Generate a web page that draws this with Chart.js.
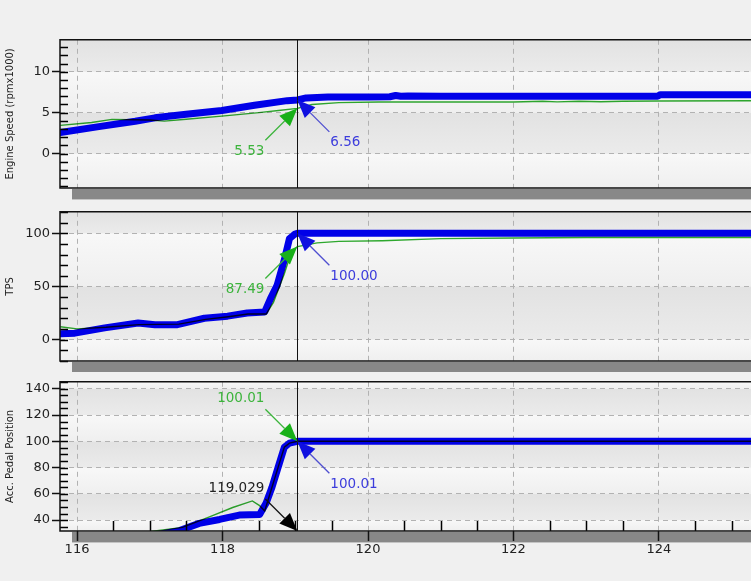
<!DOCTYPE html>
<html>
<head>
<meta charset="utf-8">
<script src="https://cdn.jsdelivr.net/npm/chart.js@4.4.1/dist/chart.umd.min.js"></script>
<style>
  html, body { margin: 0; padding: 0; background: #f0f0f0; }
  #wrap { position: relative; width: 751px; height: 581px; overflow: hidden; }
  canvas { position: absolute; left: 0; }
</style>
</head>
<body>
<div id="wrap">
  <canvas id="speed" width="751" height="172" style="top:30px"></canvas>
  <canvas id="tps" width="751" height="170" style="top:202px"></canvas>
  <canvas id="pedal" width="751" height="209" style="top:372px"></canvas>
</div>
<script>
// time axis
const timeRange = [115.766, 125.265];
const timeTicks = [116, 118, 120, 122, 124];
const cursorTime = 119.029;

// engine speed (rpm x1000)
const speedTicks = [0, 5, 10];
const speedRange = [-4.2, 13.9];
const speedBlueT = [115.77, 116.3, 116.8, 117.07, 117.5, 117.99, 118.44, 118.89, 119.03, 119.15, 119.45, 120.0, 120.3, 120.38, 120.45, 120.55, 121.0, 123.98, 124.02, 125.3];
const speedBlueV = [2.57, 3.3, 3.95, 4.37, 4.8, 5.26, 5.9, 6.47, 6.56, 6.8, 6.9, 6.9, 6.95, 7.1, 7.0, 7.05, 7.0, 7.0, 7.2, 7.2];
const speedGreenT = [115.77, 116.2, 116.48, 117.0, 117.2, 117.5, 117.99, 118.5, 118.8, 119.03, 119.23, 119.6, 120.15, 121.0, 122.0, 122.4, 122.6, 122.9, 123.2, 123.5, 124.0, 125.3];
const speedGreenV = [3.45, 3.8, 4.18, 4.1, 3.97, 4.2, 4.58, 5.0, 5.3, 5.53, 6.0, 6.23, 6.3, 6.3, 6.3, 6.4, 6.32, 6.4, 6.33, 6.4, 6.42, 6.45];

// throttle position
const tpsTicks = [0, 50, 100];
const tpsRange = [-20.2, 120.2];
const tpsBlueT = [115.77, 115.97, 116.38, 116.84, 117.07, 117.38, 117.75, 118.07, 118.34, 118.58, 118.67, 118.75, 118.85, 118.92, 118.99, 119.03, 125.3];
const tpsBlueV = [5.5, 6, 11, 15.5, 14, 14, 20, 22, 25, 26, 40, 51, 75, 95, 99, 100, 100];
const tpsGreenT = [115.77, 116.0, 116.4, 116.85, 117.4, 117.77, 118.08, 118.35, 118.6, 118.7, 118.85, 118.95, 119.03, 119.3, 119.6, 120.2, 121.0, 122.0, 123.0, 124.0, 125.3];
const tpsGreenV = [12, 10, 11.5, 14, 14.5, 19, 21.5, 24, 24, 35, 62, 83, 87.49, 91, 92.4, 93, 95, 95.5, 96, 96, 96];

// accelerator pedal position
const pedalTicks = [40, 60, 80, 100, 120, 140];
const pedalRange = [31.7, 145.3];
const pedalBlueT = [115.77, 116.5, 117.0, 117.41, 117.68, 117.96, 118.23, 118.51, 118.6, 118.68, 118.78, 118.85, 118.92, 119.03, 125.3];
const pedalBlueV = [20, 24, 28, 32, 37.5, 40.5, 43.8, 44.3, 53, 65, 83, 95.5, 98.6, 100, 100];
const pedalGreenT = [115.77, 116.5, 117.1, 117.45, 117.82, 118.14, 118.41, 118.51, 118.58, 118.68, 118.78, 118.85, 118.92, 119.03, 125.3];
const pedalGreenV = [22, 27, 32, 34.5, 42.5, 49.6, 54.6, 51, 47, 65, 83, 95.5, 98.6, 100, 100];

// cursor readouts
const cursorGreen = [5.53, 87.49, 100.01];
const cursorBlue = [6.56, 100.00, 100.01];

const GREEN = '#2fae2f';
const BLUE = '#0000e8';
const FONT = 'DejaVu Sans';

function pairs(t, v) {
  return t.map((x, i) => ({x: x, y: v[i]}));
}

function drawArrow(ctx, tx, ty, ux, uy, lineCol, headCol) {
  const a = Math.atan2(ty - uy, tx - ux);
  const L = 18, W = 7.5;
  const bx = tx - L * Math.cos(a), by = ty - L * Math.sin(a);
  ctx.strokeStyle = lineCol;
  ctx.lineWidth = 1.3;
  ctx.beginPath(); ctx.moveTo(ux, uy); ctx.lineTo(bx, by); ctx.stroke();
  ctx.fillStyle = headCol;
  ctx.beginPath();
  ctx.moveTo(tx, ty);
  ctx.lineTo(bx + W * Math.sin(a), by - W * Math.cos(a));
  ctx.lineTo(bx - W * Math.sin(a), by + W * Math.cos(a));
  ctx.closePath(); ctx.fill();
}

function panelPlugin(p) {
  return {
    id: 'panel_' + p.id,
    beforeDraw(chart) {
      const ctx = chart.ctx, a = chart.chartArea, ys = chart.scales.y;
      const cuts = p.ticks.map(v => ys.getPixelForValue(v)).sort((m, n) => n - m);
      const edges = [a.bottom].concat(cuts, [a.top]);
      ctx.save();
      for (let k = 0; k < edges.length - 1; k++) {
        const y0 = edges[k + 1], y1 = edges[k];
        const g = ctx.createLinearGradient(0, y0, 0, y1);
        if (k % 2 === 0) { g.addColorStop(0, '#f8f8f8'); g.addColorStop(1, '#efefef'); }
        else { g.addColorStop(0, '#e2e2e2'); g.addColorStop(1, '#ebebeb'); }
        ctx.fillStyle = g;
        ctx.fillRect(a.left, y0, a.right - a.left, y1 - y0);
      }
      // scroll bar strip under the plot
      ctx.fillStyle = '#888888';
      ctx.fillRect(72, a.bottom + 1, a.right - 72, 10);
      ctx.fillStyle = '#c4c4c4';
      ctx.fillRect(72, a.bottom + 11, a.right - 72, 1);
      ctx.restore();
    },
    beforeDatasetDraw(chart, args) {
      if (args.index === 0) { chart.ctx.save(); chart.ctx.globalCompositeOperation = 'multiply'; }
    },
    afterDatasetDraw(chart, args) {
      if (args.index === 0) chart.ctx.restore();
    },
    afterDatasetsDraw(chart) {
      const ctx = chart.ctx, a = chart.chartArea, xs = chart.scales.x, ys = chart.scales.y;
      ctx.save();
      // inner minor ticks on the value axis
      ctx.strokeStyle = '#000'; ctx.lineWidth = 1.5;
      ctx.beginPath();
      for (let v = Math.ceil(p.range[0] / p.minor) * p.minor; v <= p.range[1]; v += p.minor) {
        const y = Math.round(ys.getPixelForValue(v)) + 0.5;
        ctx.moveTo(a.left, y); ctx.lineTo(a.left + 8, y);
      }
      if (p.showX) {
        for (let t = Math.ceil(timeRange[0] * 2) / 2; t <= timeRange[1]; t += 0.5) {
          if (timeTicks.indexOf(t) >= 0) continue;
          const x = Math.round(xs.getPixelForValue(t)) + 0.5;
          ctx.moveTo(x, a.bottom); ctx.lineTo(x, a.bottom - 10);
        }
      }
      ctx.stroke();
      // cursor
      const cx = Math.round(xs.getPixelForValue(cursorTime)) + 0.5;
      ctx.lineWidth = 1; ctx.strokeStyle = '#111';
      ctx.beginPath(); ctx.moveTo(cx, a.top); ctx.lineTo(cx, a.bottom); ctx.stroke();
      // frame
      ctx.lineWidth = 1.5; ctx.strokeStyle = '#111';
      ctx.beginPath();
      ctx.moveTo(a.right + 2, a.top); ctx.lineTo(a.left, a.top); ctx.lineTo(a.left, a.bottom); ctx.lineTo(a.right + 2, a.bottom);
      ctx.stroke();
      // readouts
      ctx.font = '13.5px "' + FONT + '"';
      ctx.textBaseline = 'middle';
      p.notes.forEach(n => {
        const tx = xs.getPixelForValue(cursorTime);
        const ty = n.value === null ? a.bottom : ys.getPixelForValue(n.value);
        const sx = n.side === 'left' ? -1 : 1, sy = n.up ? -1 : 1;
        const ux = tx + sx * 32, uy = ty + sy * 32;
        drawArrow(ctx, tx, ty, ux, uy, n.line, n.head);
        ctx.fillStyle = n.text;
        ctx.textAlign = sx < 0 ? 'right' : 'left';
        ctx.fillText(n.label, ux + sx * 1, uy + sy * 11);
      });
      ctx.restore();
    }
  };
}

function makePanel(p) {
  const tickFont = {family: FONT, size: 13};
  new Chart(document.getElementById(p.id), {
    type: 'line',
    data: {
      datasets: [
        {data: pairs(p.greenT, p.greenV), borderColor: GREEN, borderWidth: 1.4, pointRadius: 0, tension: 0},
        {data: pairs(p.blueT, p.blueV), borderColor: BLUE, borderWidth: 7, pointRadius: 0, tension: 0, borderJoinStyle: 'round', borderCapStyle: 'round'}
      ]
    },
    options: {
      responsive: false,
      animation: false,
      devicePixelRatio: 1,
      layout: {padding: {top: p.padTop, bottom: p.padBottom, left: 0, right: 0}},
      plugins: {legend: {display: false}, tooltip: {enabled: false}},
      scales: {
        x: {
          type: 'linear', min: timeRange[0], max: timeRange[1],
          afterBuildTicks: s => { s.ticks = timeTicks.map(v => ({value: v})); },
          afterFit: s => { s.height = p.showX ? 30 : 0; },
          grid: {color: '#b2b2b2', lineWidth: 1, drawTicks: p.showX, tickLength: 10, tickColor: '#111', tickWidth: 1.5, tickBorderDash: []},
          border: {display: false, dash: [5, 4]},
          ticks: {display: p.showX, color: '#222', font: tickFont, padding: 1, maxRotation: 0, autoSkip: false}
        },
        y: {
          type: 'linear', min: p.range[0], max: p.range[1],
          afterBuildTicks: s => { s.ticks = p.ticks.map(v => ({value: v})); },
          afterFit: s => { s.width = 60; },
          grid: {color: '#b2b2b2', lineWidth: 1, tickLength: 8, tickColor: '#111', tickWidth: 1.5, tickBorderDash: []},
          border: {display: false, dash: [5, 4]},
          ticks: {color: '#222', font: tickFont, padding: 2},
          title: {display: true, text: p.title, color: '#222', font: {family: FONT, size: 10}}
        }
      }
    },
    plugins: [panelPlugin(p)]
  });
}

const greenNote = {line: '#3cb43c', head: '#18b018', text: '#3cb43c'};
const blueNote = {line: '#5050d0', head: '#1010e0', text: '#3c3cdc'};

makePanel({
  id: 'speed', title: 'Engine Speed (rpmx1000)', range: speedRange, ticks: speedTicks, minor: 1,
  padTop: 7, padBottom: 14, showX: false,
  greenT: speedGreenT, greenV: speedGreenV, blueT: speedBlueT, blueV: speedBlueV,
  notes: [
    Object.assign({value: cursorGreen[0], label: cursorGreen[0].toFixed(2), side: 'left', up: false}, greenNote),
    Object.assign({value: cursorBlue[0], label: cursorBlue[0].toFixed(2), side: 'right', up: false}, blueNote)
  ]
});

makePanel({
  id: 'tps', title: 'TPS', range: tpsRange, ticks: tpsTicks, minor: 10,
  padTop: 6, padBottom: 11, showX: false,
  greenT: tpsGreenT, greenV: tpsGreenV, blueT: tpsBlueT, blueV: tpsBlueV,
  notes: [
    Object.assign({value: cursorGreen[1], label: cursorGreen[1].toFixed(2), side: 'left', up: false}, greenNote),
    Object.assign({value: cursorBlue[1], label: cursorBlue[1].toFixed(2), side: 'right', up: false}, blueNote)
  ]
});

makePanel({
  id: 'pedal', title: 'Acc. Pedal Position', range: pedalRange, ticks: pedalTicks, minor: 5,
  padTop: 9, padBottom: 20, showX: true,
  greenT: pedalGreenT, greenV: pedalGreenV, blueT: pedalBlueT, blueV: pedalBlueV,
  notes: [
    Object.assign({value: cursorGreen[2], label: cursorGreen[2].toFixed(2), side: 'left', up: true}, greenNote),
    Object.assign({value: cursorBlue[2], label: cursorBlue[2].toFixed(2), side: 'right', up: false}, blueNote),
    {value: null, label: cursorTime.toFixed(3), side: 'left', up: true, line: '#111', head: '#000', text: '#222'}
  ]
});
</script>
</body>
</html>
